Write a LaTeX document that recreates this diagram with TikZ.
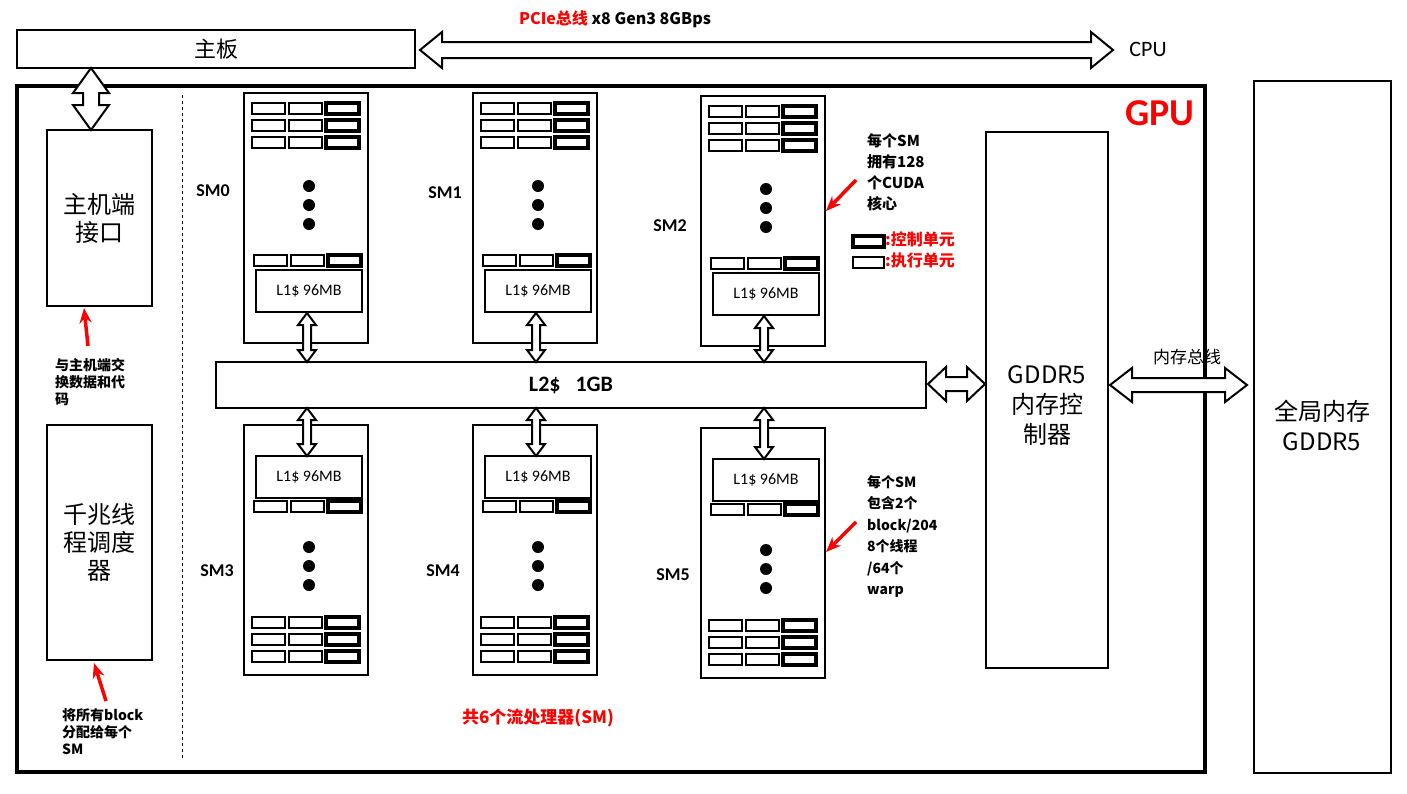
\documentclass[tikz,border=0pt]{standalone}
\usepackage{fontspec}
\usetikzlibrary{arrows.meta}
\setmainfont{Carlito}
\newfontfamily\cjk{Noto Sans CJK SC}
\begin{document}
\begin{tikzpicture}[x=1pt,y=-1pt,
  box/.style={draw,line width=2.2pt},
  exe/.style={draw,line width=1.8pt},
  ctl/.style={draw,line width=3.6pt},
  hol/.style={draw,line width=2pt,fill=white},
  redarr/.style={draw=red,line width=3.5pt,-{Stealth[length=15pt,width=12pt]}},
  lab/.style={font=\cjk\bfseries\fontsize{14}{17}\selectfont,align=left,anchor=north west,inner sep=0pt},
  big/.style={font=\cjk\fontsize{24}{28}\selectfont,align=center}]
\useasboundingbox (0,0) rectangle (1407,793);
\fill[white] (0,0) rectangle (1407,793);
\newcommand\dblH[6]{% x1 x2 y shaft head hl
 \filldraw[hol] (#1,#3) -- (#1+#6,#3-#5) -- (#1+#6,#3-#4) -- (#2-#6,#3-#4) -- (#2-#6,#3-#5) -- (#2,#3) -- (#2-#6,#3+#5) -- (#2-#6,#3+#4) -- (#1+#6,#3+#4) -- (#1+#6,#3+#5) -- cycle;}
\newcommand\dblV[6]{% y1 y2 x shaft head hl
 \filldraw[hol] (#3,#1) -- (#3-#5,#1+#6) -- (#3-#4,#1+#6) -- (#3-#4,#2-#6) -- (#3-#5,#2-#6) -- (#3,#2) -- (#3+#5,#2-#6) -- (#3+#4,#2-#6) -- (#3+#4,#1+#6) -- (#3+#5,#1+#6) -- cycle;}
% top
\node[box,minimum width=398,minimum height=38,inner sep=0,big,font=\cjk\fontsize{22}{26}\selectfont] (mb) at (216,49) {主板};
\dblH{420}{1113}{50}{8}{18}{22}
\node[font=\cjk\bfseries\fontsize{16}{19}\selectfont] (pcie) at (615,19) {\textcolor{red}{PCIe总线} x8 Gen3 8GBps};
\node[font=\fontsize{22}{26}\selectfont] (cpu) at (1148,49) {CPU};
% GPU frame
\draw[line width=3.5pt] (17,86) rectangle (1205,772);
\node[text=red,font=\bfseries\fontsize{38}{42}\selectfont] (gpu) at (1160,113) {GPU};
\node[box,minimum width=137,minimum height=692,inner sep=0] (gm) at (1322.5,427) {};
\node[big,font=\fontsize{24}{30}\selectfont\cjk] at (1322,425) {全局内存\\GDDR5};
% host
\node[box,minimum width=105,minimum height=176,inner sep=0,big] (host) at (99.5,218) {主机端\\接口};
\dblV{68}{130}{91}{8}{18}{25}
\coordinate (ha) at (88,346); \coordinate (hb) at (84,308);
\draw[redarr] (ha) -- (hb);
\node[lab] at (55,358) {与主机端交\\换数据和代\\码};
\node[box,minimum width=105,minimum height=235,inner sep=0,big] (sch) at (99.5,542.5) {千兆线\\程调度\\器};
\coordinate (sa) at (106,701); \coordinate (sb) at (94,663);
\draw[redarr] (sa) -- (sb);
\node[lab] at (62,708) {将所有block\\分配给每个\\SM};
\draw[dashed,line width=1pt] (182,95) -- (182,760);
% L2
\node[box,minimum width=710,minimum height=46,inner sep=0,font=\bfseries\fontsize{22}{26}\selectfont] (l2) at (571,385) {L2\$\ \ \ 1GB};
% SM macros
\newcommand\cellrow[2]{% x y
 \draw[exe] (#1+8,#2) rectangle +(33,11);
 \draw[exe] (#1+45,#2) rectangle +(33,11);
 \draw[ctl] (#1+82,#2) rectangle +(33,11);}
\newcommand\smdots[2]{\foreach \d in {0,19,38} \fill (#1,#2+\d) circle (6);}
\newcommand\smtop[3]{% x y name
 \draw[line width=2.6pt] (#1,#2) rectangle +(124,250);
 \cellrow{#1}{#2+10}\cellrow{#1}{#2+27}\cellrow{#1}{#2+44}
 \smdots{#1+65}{#2+93}
 \cellrow{#1+2}{#2+162}
 \draw[line width=2.2pt] (#1+12,#2+177) rectangle +(106,42);
 \node[font=\fontsize{16}{19}\selectfont] at (#1+65,#2+198) {L1\$ 96MB};
 \dblV{#2+220}{362}{#1+63}{4}{9}{12}}
\newcommand\smbot[3]{%
 \draw[line width=2.6pt] (#1,#2) rectangle +(124,250);
 \draw[line width=2.2pt] (#1+12,#2+31) rectangle +(106,42);
 \node[font=\fontsize{16}{19}\selectfont] at (#1+65,#2+52) {L1\$ 96MB};
 \cellrow{#1+2}{#2+76}
 \smdots{#1+65}{#2+122}
 \cellrow{#1}{#2+192}\cellrow{#1}{#2+209}\cellrow{#1}{#2+226}
 \dblV{408}{#2+31}{#1+63}{4}{9}{12}}
\smtop{244}{93}{SM0}\smtop{473}{93}{SM1}\smtop{701}{96}{SM2}
\smbot{244}{425}{SM3}\smbot{473}{425}{SM4}\smbot{701}{428}{SM5}
\tikzset{sml/.style={font=\bfseries\fontsize{18}{21}\selectfont}}
\node[sml] (s0) at (213,191) {SM0};
\node[sml] (s1) at (445,193) {SM1};
\node[sml] (s2) at (670,226) {SM2};
\node[sml] (s3) at (217,571) {SM3};
\node[sml] (s4) at (443,571) {SM4};
\node[sml] (s5) at (673,575) {SM5};
% notes
\node[lab,font=\cjk\bfseries\fontsize{15}{21}\selectfont] at (867,133) {每个SM\\拥有128\\个CUDA\\核心};
\coordinate (n1a) at (856,180); \coordinate (n1b) at (826,211);
\draw[redarr] (n1a) -- (n1b);
\draw[ctl] (853,236) rectangle (884,247);
\draw[exe] (853,257) rectangle (884,268);
\node[lab,text=red,font=\cjk\bfseries\fontsize{16}{19}\selectfont] at (885,232) {:控制单元};
\node[lab,text=red,font=\cjk\bfseries\fontsize{16}{19}\selectfont] at (885,253) {:执行单元};
\node[lab,font=\cjk\bfseries\fontsize{14}{21.5}\selectfont] at (867,475) {每个SM\\包含2个\\block/204\\8个线程\\/64个\\warp};
\coordinate (n2a) at (856,522); \coordinate (n2b) at (826,552);
\draw[redarr] (n2a) -- (n2b);
\node[text=red,font=\cjk\bfseries\fontsize{17}{20}\selectfont] (tot) at (538,718) {共6个流处理器(SM)};
% GDDR controller
\node[box,minimum width=122,minimum height=536,inner sep=0] (mc) at (1047,400) {};
\node[big,font=\cjk\fontsize{24}{30}\selectfont] at (1047,405) {GDDR5\\内存控\\制器};
\dblH{928}{985}{384}{7}{17}{18}
\dblH{1110}{1247}{385}{7}{17}{22}
\node[font=\cjk\fontsize{17}{20}\selectfont] (bus) at (1187,357) {内存总线};
\end{tikzpicture}
\end{document}
